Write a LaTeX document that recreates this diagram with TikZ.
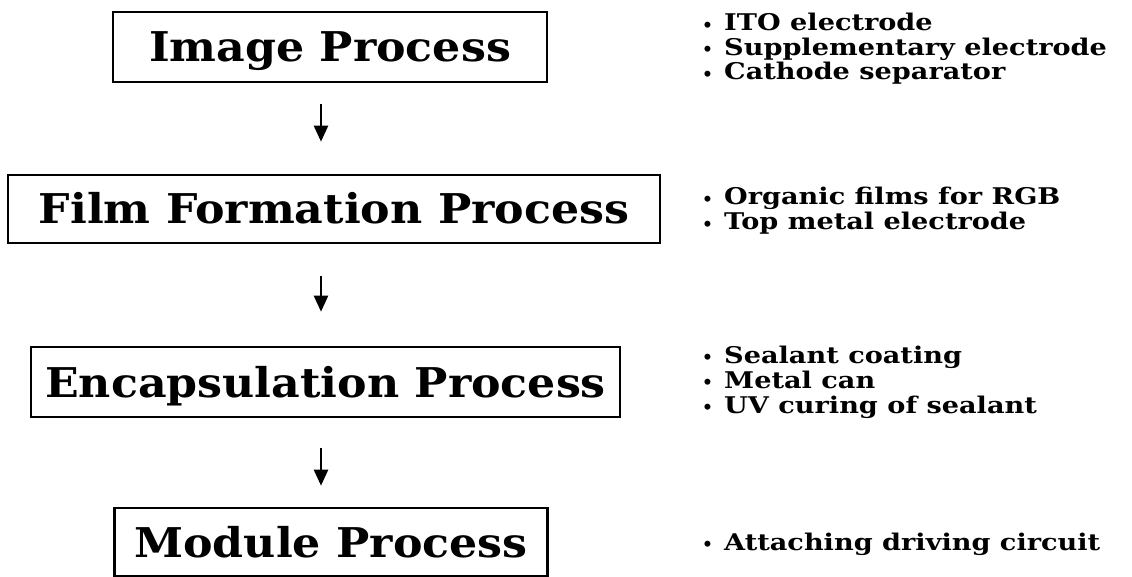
\documentclass[tikz,border=0pt]{standalone}
\usepackage{fontspec}
\setmainfont{DejaVu Serif}
\usetikzlibrary{arrows.meta}
\newcommand{\bul}{\makebox[23pt][l]{\hspace{1pt}\raisebox{-0.02em}{\fontsize{17}{17}\selectfont •}}}
\newcommand{\itm}[1]{\bul\scalebox{1.18}[1]{#1}}
\newcommand{\bxt}[1]{\scalebox{1.08}[1]{#1}}
\begin{document}
\begin{tikzpicture}[x=1pt,y=-1pt,
  procbox/.style={draw=black,line width=2.6pt,inner sep=0pt,
    font=\fontsize{41}{45}\selectfont\bfseries,
    text height=30pt,text depth=0pt},
  item/.style={anchor=base west,inner sep=0pt,
    font=\fontsize{23}{25}\selectfont\bfseries},
  arr/.style={line width=2.3pt,-{Triangle[length=16pt,width=14pt]}}]
\useasboundingbox (0,0) rectangle (1132,577);
\fill[white] (0,0) rectangle (1132,577);

\node[procbox,minimum width=434pt,minimum height=70pt] (b1) at (330,47) {\bxt{Image Process}};
\node[procbox,minimum width=652pt,minimum height=68pt] (b2) at (334,209) {\bxt{Film Formation Process}};
\node[procbox,minimum width=589pt,minimum height=70pt] (b3) at (325.5,382) {\bxt{Encapsulation Process}};
\node[procbox,minimum width=433pt,minimum height=68pt] (b4) at (331,542) {\bxt{Module Process}};

\coordinate (ax) at (321,0);
\draw[arr,shorten <=21pt,shorten >=32pt] (b1.south -| ax) -- (b2.north -| ax);
\draw[arr,shorten <=32pt,shorten >=34pt] (b2.south -| ax) -- (b3.north -| ax);
\draw[arr,shorten <=30pt,shorten >=21pt] (b3.south -| ax) -- (b4.north -| ax);

\node[item] (l1a) at (701,31) {\itm{ITO electrode}};
\node[item] (l1b) at (701,55.5) {\itm{Supplementary electrode}};
\node[item] (l1c) at (701,80) {\itm{Cathode separator}};

\node[item] (l2a) at (701,205) {\itm{Organic films for RGB}};
\node[item] (l2b) at (701,230) {\itm{Top metal electrode}};

\node[item] (l3a) at (701,363) {\itm{Sealant coating}};
\node[item] (l3b) at (701,388) {\itm{Metal can}};
\node[item] (l3c) at (701,413) {\itm{UV curing of sealant}};

\node[item] (l4a) at (701,550) {\itm{Attaching driving circuit}};
\end{tikzpicture}
\end{document}
